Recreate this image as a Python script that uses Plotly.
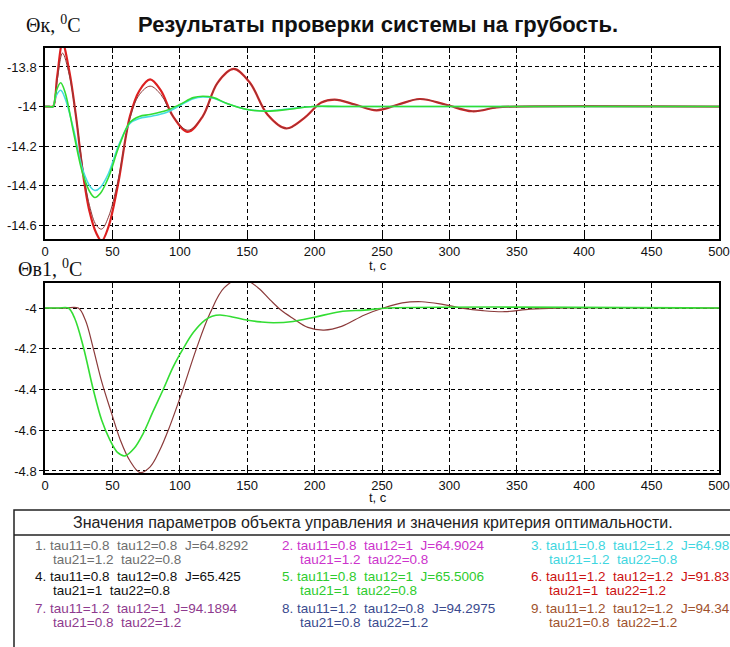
import plotly.graph_objects as go

W, H = 730, 647

# ---------------- data ----------------
# Upper plot: Θк, °C
top_t_red = [0, 3, 6, 9, 13, 18, 23, 28, 33, 38, 42, 47, 54, 63, 70, 78, 86, 95, 106, 117, 128, 140,
             152, 165, 179, 192, 205, 215, 230, 246, 262, 278, 297, 317, 335, 350, 500]
top_red = [-14, -14, -14, -13.85, -13.68, -13.82, -14.05, -14.33, -14.53, -14.64, -14.68, -14.61, -14.40,
           -14.05, -13.92, -13.863, -13.92, -14.05, -14.128, -14.05, -13.88, -13.81,
           -13.88, -14.04, -14.111, -14.06, -13.98, -13.965, -13.99, -14.019, -13.99, -13.962, -13.99,
           -14.024, -14.005, -14.0, -14.0]
top_brown = [-14, -14, -14, -13.87, -13.73, -13.84, -14.05, -14.31, -14.50, -14.60, -14.62, -14.56, -14.38,
             -14.06, -13.94, -13.897, -13.94, -14.05, -14.12, -14.05, -13.88, -13.81,
             -13.88, -14.04, -14.111, -14.06, -13.98, -13.965, -13.99, -14.019, -13.99, -13.962, -13.99,
             -14.024, -14.005, -14.0, -14.0]

top_t_green = [0, 3, 6, 8, 11.6, 15, 21, 28, 34, 37, 41, 47, 55, 63, 70, 78, 90, 100, 110, 117, 125,
               135, 150, 165, 180, 199, 220, 500]
top_green = [-14, -14, -14, -13.93, -13.88, -13.93, -14.125, -14.34, -14.44, -14.46, -14.44, -14.36, -14.20,
             -14.08, -14.05, -14.04, -14.02, -13.99, -13.955, -13.948, -13.955,
             -13.985, -14.015, -14.024, -14.015, -14.0, -14.0, -14.0]
top_cyan = [-14, -14, -14, -13.95, -13.918, -13.96, -14.11, -14.32, -14.41, -14.425, -14.41, -14.34, -14.19,
            -14.085, -14.06, -14.05, -14.03, -13.995, -13.96, -13.952, -13.958,
            -13.985, -14.015, -14.022, -14.013, -14.0, -14.0, -14.0]

# Lower plot: Θв1, °C
bot_t_brown = [0, 15, 24.7, 30, 35.8, 42, 49.4, 56, 63, 70.5, 78, 85, 91.5, 101.3, 112.4, 122.4, 133,
               146, 158, 167, 175, 184, 195, 207, 220, 237, 251, 265, 279.5, 295, 309, 325, 341,
               360, 380, 500]
bot_brown = [-4, -4, -4, -4.06, -4.198, -4.36, -4.517, -4.65, -4.75, -4.808, -4.78, -4.70, -4.599, -4.419,
             -4.198, -4.026, -3.90, -3.855, -3.90, -3.96, -4.01, -4.051, -4.095, -4.108, -4.09, -4.034,
             -4.0, -3.975, -3.969, -3.982, -4.0, -4.013, -4.018, -4.005, -4.0, -4.0]

bot_t_green = [0, 10, 17.3, 22, 28.4, 35.8, 42, 48.2, 54, 59.3, 66, 72.9, 80, 87.7, 95, 102.6, 110, 118.7,
               124, 129.9, 140, 149.6, 160, 169.4, 184, 200, 218.8, 237, 255, 500]
bot_green = [-4, -4, -4, -4.05, -4.19, -4.40, -4.55, -4.648, -4.71, -4.726, -4.69, -4.615, -4.51, -4.40,
             -4.29, -4.198, -4.12, -4.059, -4.04, -4.034, -4.045, -4.059, -4.068, -4.072, -4.066,
             -4.045, -4.018, -4.01, -4.0, -4.0]

x_ticks = [0, 50, 100, 150, 200, 250, 300, 350, 400, 450, 500]
top_yticks = [-13.8, -14, -14.2, -14.4, -14.6]
top_yticktext = ["-13.8", "-14", "-14.2", "-14.4", "-14.6"]
bot_yticks = [-4, -4.2, -4.4, -4.6, -4.8]
bot_yticktext = ["-4", "-4.2", "-4.4", "-4.6", "-4.8"]

title_text = "Результаты проверки системы на грубость."
legend_header = "Значения параметров объекта управления и значения критерия оптимальности."
legend_line1 = ["1. tau11=0.8  tau12=0.8  J=64.8292", "2. tau11=0.8  tau12=1  J=64.9024",
                "3. tau11=0.8  tau12=1.2  J=64.98",
                "4. tau11=0.8  tau12=0.8  J=65.425", "5. tau11=0.8  tau12=1  J=65.5006",
                "6. tau11=1.2  tau12=1.2  J=91.83",
                "7. tau11=1.2  tau12=1  J=94.1894", "8. tau11=1.2  tau12=0.8  J=94.2975",
                "9. tau11=1.2  tau12=1.2  J=94.34"]
legend_line2 = ["tau21=1.2  tau22=0.8", "tau21=1.2  tau22=0.8", "tau21=1.2  tau22=0.8",
                "tau21=1  tau22=0.8", "tau21=1  tau22=0.8", "tau21=1  tau22=1.2",
                "tau21=0.8  tau22=1.2", "tau21=0.8  tau22=1.2", "tau21=0.8  tau22=1.2"]
legend_colors = ["#6e6e6e", "#cc33cc", "#3fd6e0", "#111111", "#2ecc2e", "#cc1111",
                 "#8e3a8e", "#3a4a8e", "#a0522d"]

# ---------------- figure ----------------
fig = go.Figure()

def px_x(p):
    return p / W

def px_y(p):
    return 1 - p / H

fig.add_trace(go.Scatter(x=top_t_red, y=top_red, mode="lines", line=dict(color="#dd2020", width=2.2, shape="spline"),
                         xaxis="x", yaxis="y", showlegend=False))
fig.add_trace(go.Scatter(x=top_t_red, y=top_brown, mode="lines", line=dict(color="#8b3a3a", width=1, shape="spline"),
                         xaxis="x", yaxis="y", showlegend=False))
fig.add_trace(go.Scatter(x=top_t_green, y=top_cyan, mode="lines", line=dict(color="#44dde0", width=1.6, shape="spline"),
                         xaxis="x", yaxis="y", showlegend=False))
fig.add_trace(go.Scatter(x=top_t_green, y=top_green, mode="lines", line=dict(color="#33dd33", width=1.6, shape="spline"),
                         xaxis="x", yaxis="y", showlegend=False))

fig.add_trace(go.Scatter(x=bot_t_brown, y=bot_brown, mode="lines", line=dict(color="#8b3a3a", width=1.2, shape="spline"),
                         xaxis="x2", yaxis="y2", showlegend=False))
fig.add_trace(go.Scatter(x=bot_t_green, y=bot_green, mode="lines", line=dict(color="#33dd33", width=1.6, shape="spline"),
                         xaxis="x2", yaxis="y2", showlegend=False))

axis_font = dict(family="Arial, Liberation Sans", size=13, color="#111")
xcommon = dict(range=[0, 500], tickvals=x_ticks, ticktext=[str(v) for v in x_ticks], ticks="inside", ticklen=5,
               tickcolor="#000", showline=True, linecolor="#000", linewidth=1.5, mirror="ticks",
               showgrid=True, gridcolor="#000", gridwidth=1, griddash="4px,3px", zeroline=False,
               tickfont=axis_font, domain=[px_x(45), px_x(719)], fixedrange=True, automargin=False)
ycommon = dict(ticks="outside", ticklen=4, tickcolor="#000", showline=True, linecolor="#000", linewidth=1.5,
               mirror=True, showgrid=True, gridcolor="#000", gridwidth=1, griddash="4px,3px", zeroline=False,
               tickfont=axis_font, fixedrange=True, automargin=False)

fig.update_layout(
    width=W, height=H, margin=dict(l=0, r=0, t=0, b=0, autoexpand=False),
    paper_bgcolor="white", plot_bgcolor="white",
    xaxis=dict(**xcommon, anchor="y"),
    yaxis=dict(**ycommon, range=[-14.67, -13.704], tickvals=top_yticks, ticktext=top_yticktext,
               domain=[px_y(239), px_y(48)], anchor="x"),
    xaxis2=dict(**xcommon, anchor="y2"),
    yaxis2=dict(**ycommon, range=[-4.81, -3.877], tickvals=bot_yticks, ticktext=bot_yticktext,
                domain=[px_y(473), px_y(283)], anchor="x2"),
)

ann = []
ann.append(dict(text="<b>" + title_text + "</b>", x=px_x(378), y=px_y(25), xref="paper", yref="paper", showarrow=False,
                font=dict(family="Arial, Liberation Sans", size=22, color="#111"), xanchor="center", yanchor="middle"))
ann.append(dict(text="Θк, <sup>0</sup>C", x=px_x(24), y=px_y(24), xref="paper", yref="paper", showarrow=False,
                font=dict(family="Times New Roman, Liberation Serif", size=20, color="#111"), xanchor="left", yanchor="middle"))
ann.append(dict(text="Θв1, <sup>0</sup>C", x=px_x(16), y=px_y(268), xref="paper", yref="paper", showarrow=False,
                font=dict(family="Times New Roman, Liberation Serif", size=20, color="#111"), xanchor="left", yanchor="middle"))
for yy in (265, 497):
    ann.append(dict(text="t, c", x=px_x(378), y=px_y(yy), xref="paper", yref="paper", showarrow=False,
                    font=dict(family="Arial, Liberation Sans", size=13, color="#111"), xanchor="center", yanchor="middle"))

ann.append(dict(text=legend_header, x=px_x(373), y=px_y(522), xref="paper", yref="paper", showarrow=False,
                font=dict(family="Arial, Liberation Sans", size=16, color="#222"), xanchor="center", yanchor="middle"))

col_x = [33, 280, 529]
row_y = [545, 576, 608]
for i in range(9):
    r, c = divmod(i, 3)
    ann.append(dict(text=legend_line1[i], x=px_x(col_x[c]), y=px_y(row_y[r]), xref="paper", yref="paper",
                    showarrow=False, xanchor="left", yanchor="middle",
                    font=dict(family="Arial, Liberation Sans", size=13.5, color=legend_colors[i])))
    ann.append(dict(text=legend_line2[i], x=px_x(col_x[c] + 18), y=px_y(row_y[r] + 14), xref="paper", yref="paper",
                    showarrow=False, xanchor="left", yanchor="middle",
                    font=dict(family="Arial, Liberation Sans", size=13.5, color=legend_colors[i])))
fig.update_layout(annotations=ann)

shapes = [
    dict(type="rect", xref="paper", yref="paper", x0=px_x(14), x1=px_x(740), y0=px_y(660), y1=px_y(510),
         line=dict(color="#222", width=1.5)),
    dict(type="line", xref="paper", yref="paper", x0=px_x(14), x1=px_x(740), y0=px_y(535), y1=px_y(535),
         line=dict(color="#222", width=1.5)),
]
fig.update_layout(shapes=shapes)

fig.write_html("out.html")
